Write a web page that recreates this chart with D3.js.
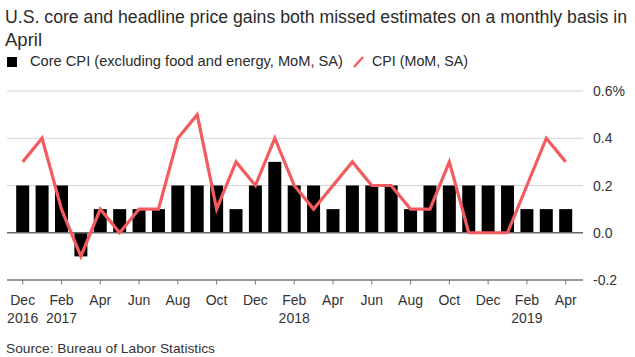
<!DOCTYPE html>
<html>
<head>
<meta charset="utf-8">
<script src="https://cdn.jsdelivr.net/npm/d3@7"></script>
<style>
  html, body { margin: 0; padding: 0; background: #fff; }
  svg { display: block; font-family: "Liberation Sans", Arial, sans-serif; }
</style>
</head>
<body>
<svg id="chart" width="635" height="357"></svg>
<script>
const months = ["Dec","Jan","Feb","Mar","Apr","May","Jun","Jul","Aug","Sep","Oct","Nov",
                "Dec","Jan","Feb","Mar","Apr","May","Jun","Jul","Aug","Sep","Oct","Nov",
                "Dec","Jan","Feb","Mar","Apr"];
const years = ["2016","","2017","","","","","","","","","",
               "","","2018","","","","","","","","","",
               "","","2019","",""];
const coreCPI = [0.2,0.2,0.2,-0.1,0.1,0.1,0.1,0.1,0.2,0.2,0.2,0.1,
                 0.2,0.3,0.2,0.2,0.1,0.2,0.2,0.2,0.1,0.2,0.2,0.2,
                 0.2,0.2,0.1,0.1,0.1];
const headlineCPI = [0.3,0.4,0.1,-0.1,0.1,0.0,0.1,0.1,0.4,0.5,0.1,0.3,
                     0.2,0.4,0.2,0.1,0.2,0.3,0.2,0.2,0.1,0.1,0.3,0.0,
                     0.0,0.0,0.2,0.4,0.3];
const yTicks = [-0.2, 0.0, 0.2, 0.4, 0.6];
const yTickLabels = ["-0.2","0.0","0.2","0.4","0.6%"];
const titleLines = ["U.S. core and headline price gains both missed estimates on a monthly basis in", "April"];
const legendLabels = ["Core CPI (excluding food and energy, MoM, SA)", "CPI (MoM, SA)"];
const sourceText = "Source: Bureau of Labor Statistics";

const svg = d3.select("#chart");
const idx = d3.range(months.length);

const x = d3.scaleBand().domain(idx).range([13, 575.4]).paddingInner(0.33).paddingOuter(0.165);
const y = d3.scaleLinear().domain([-0.2, 0.6]).range([280, 91]);
const cx = i => x(i) + x.bandwidth() / 2;

// title
svg.append("g").selectAll("text").data(titleLines).join("text")
  .attr("x", 5).attr("y", (d, i) => 22.5 + i * 23.5)
  .attr("font-size", (d, i) => i === 0 ? 17.5 : 18.5).attr("fill", "#2a2a2a")
  .attr("textLength", (d, i) => i === 0 ? 622 : null)
  .attr("lengthAdjust", "spacingAndGlyphs")
  .text(d => d);

// legend
svg.append("rect").attr("x", 7).attr("y", 57).attr("width", 10).attr("height", 10).attr("fill", "#000");
svg.append("text").attr("x", 30).attr("y", 66).attr("font-size", 14).attr("fill", "#2a2a2a")
  .attr("textLength", 313).attr("lengthAdjust", "spacingAndGlyphs").text(legendLabels[0]);
svg.append("line").attr("x1", 354).attr("y1", 67).attr("x2", 363).attr("y2", 57)
  .attr("stroke", "#f45b5f").attr("stroke-width", 2.5);
svg.append("text").attr("x", 372).attr("y", 66).attr("font-size", 14).attr("fill", "#2a2a2a")
  .attr("textLength", 96).attr("lengthAdjust", "spacingAndGlyphs").text(legendLabels[1]);

// gridlines
svg.append("g").selectAll("line").data(yTicks.filter(t => t > 0)).join("line")
  .attr("x1", 7).attr("x2", 583)
  .attr("y1", d => y(d)).attr("y2", d => y(d))
  .attr("stroke", "#d4d4d4").attr("stroke-width", 1);

// y labels
svg.append("g").selectAll("text").data(yTicks).join("text")
  .attr("x", 593).attr("y", d => y(d) + 5)
  .attr("font-size", 14).attr("fill", "#333")
  .text((d, i) => yTickLabels[i]);

// bars
svg.append("g").selectAll("rect").data(coreCPI).join("rect")
  .attr("x", (d, i) => x(i)).attr("width", x.bandwidth())
  .attr("y", d => y(Math.max(0, d))).attr("height", d => Math.abs(y(d) - y(0)))
  .attr("fill", "#000");

// zero line over bars
svg.append("line").attr("x1", 7).attr("x2", 583).attr("y1", y(0)).attr("y2", y(0))
  .attr("stroke", "#666").attr("stroke-width", 1.3);

// CPI line
const line = d3.line().x((d, i) => cx(i)).y(d => y(d));
svg.append("path").datum(headlineCPI).attr("d", line)
  .attr("fill", "none").attr("stroke", "#f45b5f").attr("stroke-width", 3.2)
  .attr("stroke-linejoin", "miter").attr("stroke-linecap", "butt");

// x axis
const axisY = y(-0.2);
svg.append("line").attr("x1", 7).attr("x2", 583).attr("y1", axisY).attr("y2", axisY)
  .attr("stroke", "#777").attr("stroke-width", 1.5);
const tickIdx = idx.filter(i => i % 2 === 0);
svg.append("g").selectAll("line").data(tickIdx).join("line")
  .attr("x1", cx).attr("x2", cx).attr("y1", axisY).attr("y2", axisY + 4.5)
  .attr("stroke", "#777").attr("stroke-width", 1);
svg.append("g").selectAll("text").data(tickIdx).join("text")
  .attr("x", cx).attr("y", 305).attr("text-anchor", "middle")
  .attr("font-size", 14).attr("fill", "#333").text(i => months[i]);
svg.append("g").selectAll("text").data(idx.filter(i => years[i] !== "")).join("text")
  .attr("x", cx).attr("y", 322.5).attr("text-anchor", "middle")
  .attr("font-size", 14).attr("fill", "#333").text(i => years[i]);

// source
svg.append("text").attr("x", 6).attr("y", 352.5).attr("font-size", 13).attr("fill", "#333")
  .attr("textLength", 209).attr("lengthAdjust", "spacingAndGlyphs").text(sourceText);
</script>
</body>
</html>
